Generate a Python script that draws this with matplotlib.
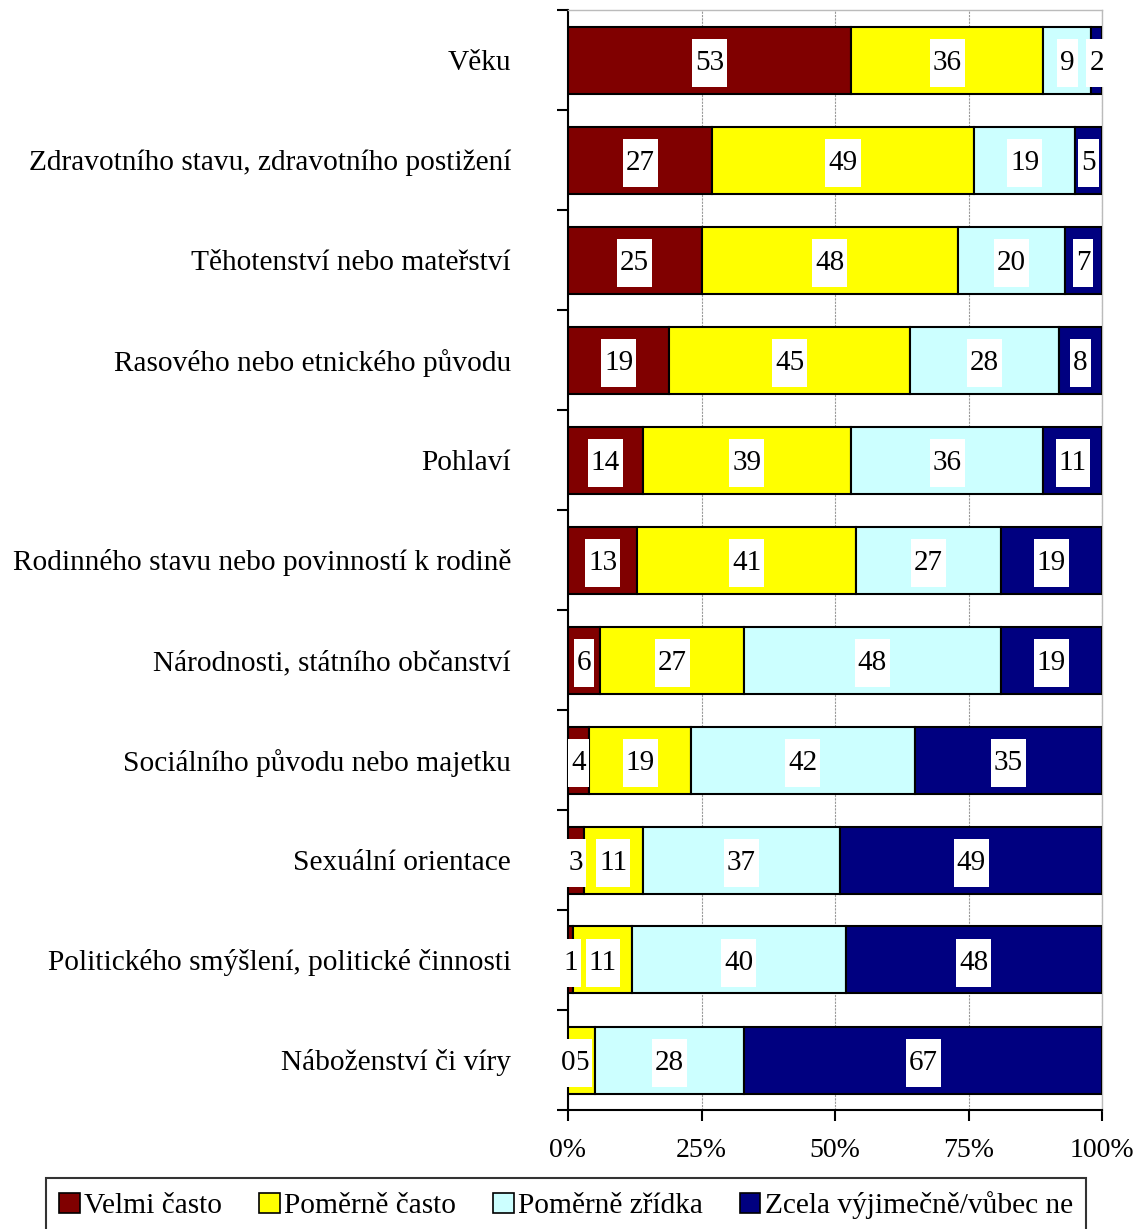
import matplotlib
matplotlib.use("Agg")
import matplotlib.pyplot as plt
import numpy as np
from matplotlib.patches import Patch
from matplotlib.path import Path

plt.rcParams['font.family'] = ['Liberation Serif', 'DejaVu Serif']

categories = [
    "Věku",
    "Zdravotního stavu, zdravotního postižení",
    "Těhotenství nebo mateřství",
    "Rasového nebo etnického původu",
    "Pohlaví",
    "Rodinného stavu nebo povinností k rodině",
    "Národnosti, státního občanství",
    "Sociálního původu nebo majetku",
    "Sexuální orientace",
    "Politického smýšlení, politické činnosti",
    "Náboženství či víry",
]
series_names = ["Velmi často", "Poměrně často", "Poměrně zřídka", "Zcela výjimečně/vůbec ne"]
velmi = [53, 27, 25, 19, 14, 13, 6, 4, 3, 1, 0]
pomerne = [36, 49, 48, 45, 39, 41, 27, 19, 11, 11, 5]
zridka = [9, 19, 20, 28, 36, 27, 48, 42, 37, 40, 28]
vubec = [2, 5, 7, 8, 11, 19, 19, 35, 49, 48, 67]
colors = ["#800000", "#FFFF00", "#CCFFFF", "#000080"]
xticks = [0, 25, 50, 75, 100]
xticklabels = ["0%", "25%", "50%", "75%", "100%"]

fs_cat = 21.2
fs_val = 21
fs_tick = 20


def tall_box(x0, y0, width, height, mutation_size):
    px = 0.1 * mutation_size
    py = 0.38 * mutation_size
    x0 -= px
    x1 = x0 + width + 2 * px
    y0 -= py
    y1 = y0 + height + 2 * py
    return Path([(x0, y0), (x1, y0), (x1, y1), (x0, y1), (x0, y0)], closed=True)


fig = plt.figure(figsize=(11.4, 12.29), dpi=100)
ax = fig.add_axes([568/1140, 1-1110/1229, (1102-568)/1140, 1100/1229])

y = np.arange(len(categories))
left = np.zeros(len(categories))
for si, (vals, col, name) in enumerate(zip([velmi, pomerne, zridka, vubec], colors, series_names)):
    vals = np.array(vals, dtype=float)
    ax.barh(y, vals, left=left, height=0.67, color=col, edgecolor='black',
            linewidth=1.5, label=name, zorder=3)
    for yi, (l, v) in enumerate(zip(left, vals)):
        ax.text(l + v/2, yi, f"{int(v)}", ha='center', va='center_baseline', fontsize=fs_val,
                zorder=10 - si, clip_on=False,
                bbox=dict(boxstyle=tall_box, facecolor='white', edgecolor='none'))
    left = left + vals

ax.set_xlim(0, 100)
ax.set_ylim(len(categories)-0.5, -0.5)

ax.set_xticks(xticks)
ax.set_xticklabels(xticklabels, fontsize=fs_tick)
ax.tick_params(axis='x', direction='out', length=8, width=1.5, pad=12, color='black')

ax.set_yticks(np.arange(-0.5, len(categories)+0.5, 1))
ax.set_yticklabels([])
ax.tick_params(axis='y', which='major', direction='out', length=8, width=1.5)
ax.set_yticks(y, minor=True)
ax.set_yticklabels(categories, minor=True, fontsize=fs_cat)
ax.tick_params(axis='y', which='minor', length=0, pad=41)

ax.grid(axis='x', color='#999999', linestyle=(0, (2, 1)), linewidth=0.8, zorder=0)
for s in ['left', 'bottom']:
    ax.spines[s].set_linewidth(1.5)
    ax.spines[s].set_color('black')
for s in ['top', 'right']:
    ax.spines[s].set_color('#bbbbbb')
    ax.spines[s].set_linewidth(1)

handles = [Patch(facecolor=c, edgecolor='black', linewidth=1.2) for c in colors]
leg = fig.legend(handles, series_names, loc='upper center', ncol=4,
                 bbox_to_anchor=(566/1140, 1-1178/1229), fontsize=fs_cat,
                 frameon=True, fancybox=False, edgecolor='black',
                 handlelength=0.7, handleheight=0.7, handletextpad=0.15,
                 columnspacing=1.25, borderpad=0.45, borderaxespad=0)
leg.get_frame().set_linewidth(1.5)

fig.savefig("out.png", dpi=100)
